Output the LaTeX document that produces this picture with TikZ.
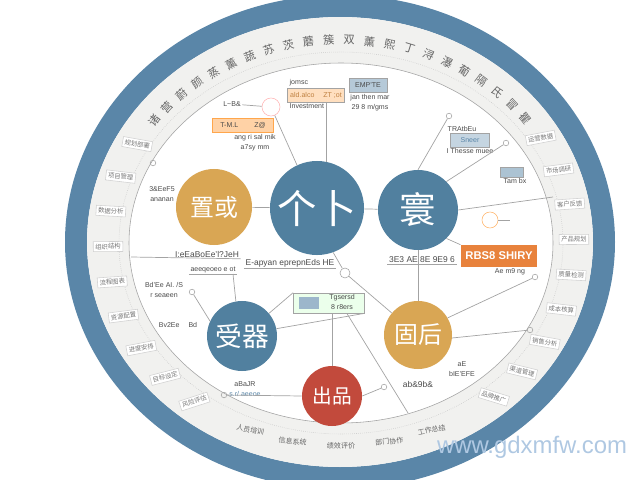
\documentclass[tikz,border=0pt]{standalone}
\usepackage{fontspec}
\setmainfont{Liberation Sans}
\newfontfamily\cjk{Noto Sans CJK SC}
\usetikzlibrary{calc}

\definecolor{ringblue}{HTML}{5A86A8}
\definecolor{hubblue}{HTML}{51809F}
\definecolor{hubgold}{HTML}{D9A654}
\definecolor{hubred}{HTML}{C24A3C}
\definecolor{tagorange}{HTML}{E8823C}
\definecolor{bandgrey}{HTML}{F1F1EF}
\definecolor{linegrey}{HTML}{A3A3A3}
\definecolor{inkgrey}{HTML}{4A4A4A}
\definecolor{webblue}{HTML}{AFC8E2}

\tikzset{
  hub/.style={circle,fill=#1,text=white,inner sep=0pt},
  wire/.style={linegrey,line width=0.5pt},
  tiny/.style={font=\fontsize{5}{6.6}\selectfont,text=inkgrey,inner sep=1pt,align=center},
  bandch/.style={font=\cjk\fontsize{8}{8}\selectfont,text=inkgrey!85,inner sep=0pt},
  bandtag/.style={font=\cjk\fontsize{4.5}{6}\selectfont,text=inkgrey!75,draw=linegrey!50,fill=white,inner sep=1.5pt},
  chip/.style={draw=linegrey,fill=#1,minimum height=0.36cm,inner sep=1pt,font=\fontsize{5}{5}\selectfont,text=inkgrey},
  orn/.style={circle,draw=linegrey,inner sep=0pt,minimum size=0.14cm}
}

\begin{document}
\begin{tikzpicture}[x=0.025cm,y=-0.025cm]
\useasboundingbox (0,0) rectangle (640,480);
% outer ring and text band
\fill[ringblue,even odd rule] (340,242) ellipse [x radius=275,y radius=247] (340,242) ellipse [x radius=253,y radius=225];
\fill[bandgrey,even odd rule] (340,242) ellipse [x radius=253,y radius=225] (341,243) ellipse [x radius=212,y radius=180];
\draw[linegrey,line width=0.4pt] (341,243) ellipse [x radius=212,y radius=180];
\draw[linegrey!60,densely dotted] (341,243) ellipse [x radius=222,y radius=191];

% band text
\foreach \ch [count=\i from 0] in {诸,营,蔚,颜,蒸,薰,蔬,苏,茨,蘑,簇,双,薰,熙,丁,浔,瀑,葡,隔,氏,冒,瞿}
  \node[bandch,rotate={53-5*\i}] at ({341+234*cos(143-5*\i)},{243-203*sin(143-5*\i)}) {\ch};
\foreach \t/\s in {151/规划部署,161/项目管理,171/数据分析,181/组织结构,191/流程图表,201/资源配置,211/进度安排,221/目标设定,231/风险评估}
  \node[bandtag,rotate={(\t-180)*0.35}] at ({341+233*cos(\t)},{243-204*sin(\t)}) {\s};
\foreach \t/\s in {31/运营数据,21/市场调研,11/客户反馈,1/产品规划,-9/质量检测,-19/成本核算,-29/销售分析,-39/渠道管理,-49/品牌推广}
  \node[bandtag,rotate={\t*0.35}] at ({341+233*cos(\t)},{243-204*sin(\t)}) {\s};
\foreach \t/\s in {247/人员培训,258/信息系统,270/绩效评价,282/部门协作,293/工作总结}
  \node[bandch,font=\cjk\fontsize{5}{5}\selectfont,rotate={(\t-270)*0.5}] at ({341+232*cos(\t)},{243-203*sin(\t)}) {\s};

% hubs
\node[hub=hubgold,minimum size=1.9cm,font=\cjk\fontsize{17}{17}\selectfont] (zhi) at (214,207) {置或};
\node[hub=hubblue,minimum size=2.35cm,font=\cjk\fontsize{28}{28}\selectfont] (ge) at (317,208) {个卜};
\node[hub=hubblue,minimum size=2cm,font=\cjk\fontsize{26}{26}\selectfont] (huan) at (418,210) {寰};
\node[hub=hubblue,minimum size=1.75cm,font=\cjk\fontsize{19}{19}\selectfont] (shou) at (242,336) {受器};
\node[hub=hubred,minimum size=1.5cm,font=\cjk\fontsize{14}{14}\selectfont] (chu) at (332,396) {出品};
\node[hub=hubgold,minimum size=1.7cm,font=\cjk\fontsize{17}{17}\selectfont] (gu) at (418,335) {固后};

% boxes and labels
\node[chip=orange!25,minimum width=1.42cm] (box1) at (316,95) {\textcolor{brown}{ald.alco \quad ZT\ ;ot}};
\node[tiny,anchor=south west] (lab1) at (288,88) {jomsc};
\node[tiny,anchor=north west] (lab1b) at (288,102) {Investment};
\node[chip=ringblue!45,minimum width=0.95cm] (box2) at (368,85) {EMP'TE};
\node[tiny,anchor=north] (lab2) at (370,93) {jan then mar\\29 8 m/gms};
\node[chip=orange!35,draw=orange!70,minimum width=1.52cm] (box3) at (243,125) {T-M.L \qquad Z@};
\node[tiny,anchor=north] (lab3) at (255,133) {ang ri sal mik\\a7sy mm};
\node[orn,draw=red!30,minimum size=0.45cm] (sketch) at (271,107) {};
\node[tiny] (lab4) at (232,104) {L\textasciitilde B\&};
\node[chip=ringblue!35,minimum width=0.98cm] (box4) at (470,140) {\textcolor{ringblue}{Sneer}};
\node[tiny,anchor=south] (lab5) at (462,133) {TRAtbEu};
\node[tiny,anchor=north] (lab6) at (470,147) {I Thesse muee};
\node[chip=ringblue!50,minimum width=0.58cm,minimum height=0.25cm] (box5) at (512,172) {};
\node[tiny,anchor=north] (lab7) at (515,177) {Tam bx};
\node[fill=tagorange,text=white,minimum width=1.9cm,minimum height=0.55cm,font=\bfseries\fontsize{8}{8}\selectfont] (res) at (499,256) {RBS8 SHIRY};
\node[chip=green!8,minimum width=1.78cm,minimum height=0.5cm] (box6) at (329,303) {};
\node[fill=ringblue!60,minimum width=0.5cm,minimum height=0.3cm,inner sep=0pt] (pic6) at (309,303) {};
\node[tiny] (lab8) at (342,302) {Tgsersd\\ 8 r8ers};
\node[orn,minimum size=0.25cm] (apple) at (345,273) {};
\node[orn,draw=orange!60,minimum size=0.4cm] (peach) at (490,220) {};
\node[tiny,font=\fontsize{6}{6}\selectfont] (lab9) at (422,260) {3E3 AE 8E 9E9 6};
\node[tiny,font=\fontsize{6}{6}\selectfont] (lab10) at (207,254) {I:eEaBoEe'l?JeH};
\node[tiny,font=\fontsize{6}{6}\selectfont] (lab11) at (290,263) {E-apyan eprepnEds HE};
\node[tiny] (lab12) at (213,270) {aeeqeoeo e ot};
\node[tiny] (lab13) at (162,194) {3\&EeF5\\ ananan};
\node[tiny] (lab14) at (164,290) {Bd'Ee AI. /S\\ r seaeen};
\node[tiny] (lab15) at (178,325) {Bv2Ee \quad Bd};
\node[tiny] (lab16) at (245,389) {aBaJR\\ \textcolor{ringblue}{s.r/ aeeoe}};
\node[tiny,font=\fontsize{6}{6}\selectfont] (lab17) at (418,384) {ab\&9b\&};
\node[tiny] (lab18) at (462,369) {aE\\ bIE'EFE};
\node[tiny] (lab19) at (510,272) {Ae m9 ng};

% ornaments on the inner rim
\coordinate (rimL) at (131,257);
\coordinate (rimR) at (553,197);
\coordinate (rimB) at (408,413);
\node[orn] (orn1) at (449,116) {};
\node[orn] (orn2) at (506,143) {};
\node[orn] (orn3) at (535,277) {};
\node[orn] (orn4) at (530,330) {};
\node[orn] (orn5) at (192,292) {};
\node[orn] (orn6) at (224,395) {};
\node[orn] (orn7) at (384,387) {};
\node[orn] (orn8) at (153,163) {};

% connectors
\draw[wire] (ge.78) -- (box1.south -| ge.78);
\draw[wire] (ge.115) -- (sketch);
\draw[wire] (sketch) -- (lab4);
\draw[wire] (zhi) -- (ge);
\draw[wire] (ge) -- (huan);
\draw[wire] (huan.north) -- (orn1);
\draw[wire] (huan.45) -- (orn2);
\draw[wire] (huan.east) -- (rimR);
\draw[wire] (huan.south) -- (gu.north);
\draw[wire] (huan.-45) -- (res.north west);
\draw[wire] (peach) -- (lab19 |- peach);
\draw[wire] (gu.30) -- (orn3);
\draw[wire] (gu.-5) -- (orn4);
\draw[wire] (gu.140) -- (apple);
\draw[wire] (apple) -- (ge.-70);
\draw[wire] (shou.100) -- (233,274);
\draw[wire] (shou.40) -- (box6.north west);
\draw[wire] (shou.12) -- (box6.south east);
\draw[wire] (box6.south -| chu.north) -- (chu.north);
\draw[wire] (box6.-30) -- (rimB);
\draw[wire] (shou.155) -- (orn5);
\draw[wire] (chu.west) -- (orn6);
\draw[wire] (chu.east) -- (orn7);
\draw[wire] (rimL) -- (lab10.south east);
\draw[wire] (lab11.south west) -- (lab11.south east);
\draw[wire] (lab12.south west) -- (lab12.south east);
\draw[wire] (lab9.south west) -- ++(70,0);

% watermark
\node[text=webblue,font=\fontsize{17}{17}\selectfont] (web) at (532,447) {www.gdxmfw.com};
\end{tikzpicture}
\end{document}
